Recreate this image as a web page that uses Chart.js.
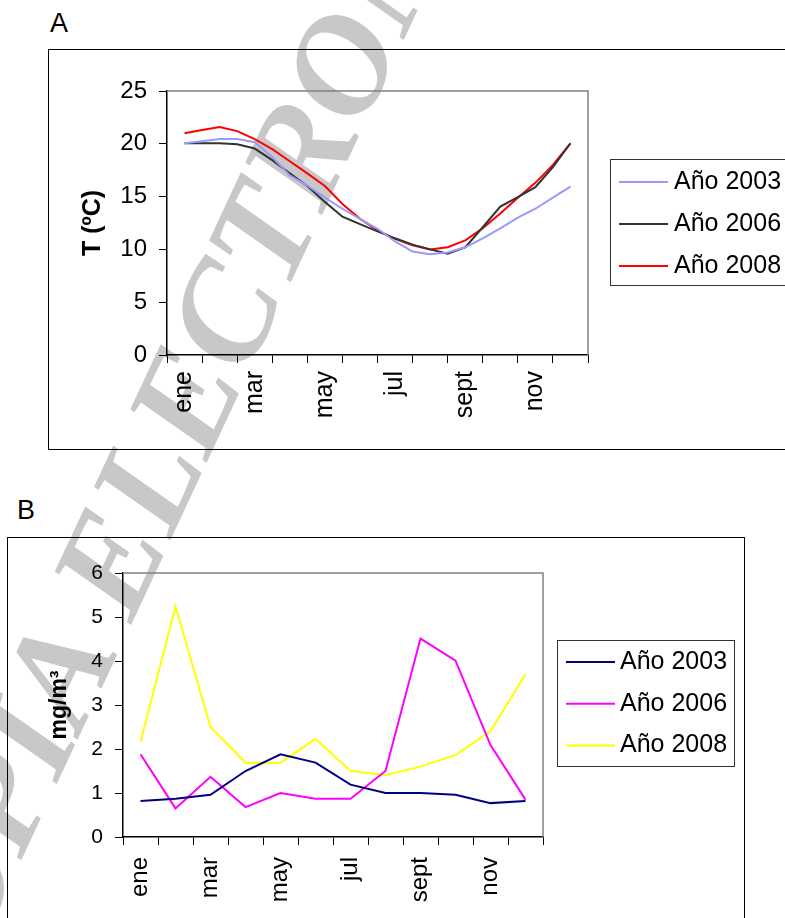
<!DOCTYPE html>
<html lang="es">
<head>
<meta charset="utf-8">
<script src="https://cdn.jsdelivr.net/npm/chart.js@4.4.1/dist/chart.umd.min.js"></script>
<style>
  html, body { margin: 0; padding: 0; background: #fff; overflow: hidden; }
  body { width: 785px; height: 918px; position: relative; font-family: "Liberation Sans", Arial, sans-serif; }
  .marca {
    position: absolute; left: -167px; top: 987px;
    font: italic bold 140px "Liberation Serif", serif; line-height: 1;
    color: #c8c8c8; white-space: nowrap;
    transform-origin: 0 0; transform: rotate(-65deg);
  }
  .letra { position: absolute; font-size: 27px; line-height: 27px; color: #000; }
  .marco { position: absolute; border: 1px solid #000; }
  canvas { position: absolute; left: 0; }
</style>
</head>
<body>
<div class="marca">COPIA ELECTRONICA</div>
<div class="letra" style="left:50px; top:10px;">A</div>
<div class="marco" style="left:48px; top:49px; width:800px; height:399px;"></div>
<div class="letra" style="left:17px; top:497px;">B</div>
<div class="marco" style="left:7px; top:537px; width:736px; height:500px;"></div>
<canvas id="graficoA" width="785" height="460" style="top:0px;"></canvas>
<canvas id="graficoB" width="785" height="458" style="top:460px;"></canvas>
<script>
// meses del eje x
const meses = ['ene', 'feb', 'mar', 'abr', 'may', 'jun', 'jul', 'ago', 'sept', 'oct', 'nov', 'dic'];

// A: temperatura quincenal (posicion en meses desde el 1 de enero)
const quincenas = [0.5, 1, 1.5, 2, 2.5, 3, 3.5, 4, 4.5, 5, 5.5, 6, 6.5, 7, 7.5, 8, 8.5, 9, 9.5, 10, 10.5, 11, 11.5];
const temp2003 = [20.05, 20.25, 20.45, 20.45, 20.15, 18.75, 17.0, 16.05, 14.9, 13.85, 12.9, 11.95, 10.75, 9.8, 9.55, 9.7, 10.2, 11.05, 12.0, 13.0, 13.85, 14.9, 15.95];
const temp2006 = [20.05, 20.05, 20.05, 19.95, 19.55, 18.45, 17.2, 16.0, 14.5, 13.1, 12.4, 11.7, 11.05, 10.45, 10.0, 9.6, 10.2, 12.1, 14.05, 14.95, 15.9, 17.8, 20.05];
const temp2008 = [21.0, 21.3, 21.6, 21.2, 20.45, 19.5, 18.35, 17.2, 16.0, 14.3, 12.9, 11.8, 11.0, 10.4, 10.0, 10.2, 10.85, 12.0, 13.4, 14.9, 16.3, 18.0, 20.05];

// B: mg/m3 mensual
const clor2003 = [0.82, 0.87, 0.96, 1.5, 1.88, 1.69, 1.19, 1.0, 1.0, 0.96, 0.77, 0.82];
const clor2006 = [1.88, 0.65, 1.37, 0.68, 1.0, 0.87, 0.87, 1.5, 4.51, 4.01, 2.09, 0.85];
const clor2008 = [2.16, 5.24, 2.5, 1.69, 1.69, 2.23, 1.5, 1.41, 1.6, 1.86, 2.41, 3.7];

const fuente = '"Liberation Sans", Arial, sans-serif';

// marco gris del area de trazado (arriba y derecha)
const marcoGrafico = {
  id: 'marcoGrafico',
  beforeDatasetsDraw(chart) {
    const ctx = chart.ctx;
    const a = chart.chartArea;
    ctx.save();
    ctx.strokeStyle = '#808080';
    ctx.lineWidth = 1.5;
    ctx.beginPath();
    ctx.moveTo(a.left, a.top);
    ctx.lineTo(a.right, a.top);
    ctx.lineTo(a.right, a.bottom);
    ctx.stroke();
    ctx.restore();
  }
};

// leyenda con recuadro
const leyendaCaja = {
  id: 'leyendaCaja',
  afterDraw(chart, args, o) {
    const ctx = chart.ctx;
    ctx.save();
    ctx.strokeStyle = '#333';
    ctx.lineWidth = 1;
    ctx.strokeRect(o.x, o.y, o.w, o.h);
    ctx.font = o.font;
    ctx.textBaseline = 'middle';
    ctx.fillStyle = '#000';
    chart.data.datasets.forEach((ds, i) => {
      let y = o.y0 + i * o.paso;
      ctx.strokeStyle = ds.borderColor;
      ctx.lineWidth = 2;
      ctx.beginPath();
      ctx.moveTo(o.xl, y);
      ctx.lineTo(o.xl + o.largo, y);
      ctx.stroke();
      ctx.fillText(ds.label, o.xt, y);
    });
    ctx.restore();
  }
};

function ejeMeses(tam, pad, alto) {
  return {
    type: 'category',
    labels: meses,
    offset: true,
    grid: { offset: true, drawOnChartArea: false, color: '#000', tickLength: 8 },
    border: { color: '#000', width: 1.5 },
    ticks: {
      autoSkip: false, minRotation: 90, maxRotation: 90, padding: pad, color: '#000',
      font: { family: fuente, size: tam },
      callback: (v, i) => i % 2 ? '' : meses[i]
    },
    afterFit: s => { s.height = alto; }
  };
}

function ejeY(max, tam, titulo, tamTit, ancho) {
  return {
    min: 0, max: max,
    ticks: { stepSize: max == 25 ? 5 : 1, padding: 12, color: '#000', font: { family: fuente, size: tam } },
    grid: { drawOnChartArea: false, color: '#000', tickLength: 8 },
    border: { color: '#000', width: 1.5 },
    title: { display: true, text: titulo, color: '#000', padding: 0, font: { family: fuente, size: tamTit, weight: 'bold' } },
    afterFit: s => { s.width = ancho; }
  };
}

function serie(label, color, valores, xs) {
  return {
    label: label,
    data: xs ? valores.map((v, i) => ({ x: xs[i], y: v })) : valores,
    borderColor: color,
    backgroundColor: color,
    borderWidth: 2,
    pointRadius: 0,
    tension: 0,
    xAxisID: xs ? 'xd' : 'x'
  };
}

// Grafico A
new Chart(document.getElementById('graficoA'), {
  type: 'line',
  data: {
    datasets: [
      serie('Año 2003', '#9999FF', temp2003, quincenas),
      serie('Año 2006', '#333333', temp2006, quincenas),
      serie('Año 2008', '#FF0000', temp2008, quincenas)
    ]
  },
  options: {
    responsive: false,
    animation: false,
    layout: { padding: { left: 78, top: 91, right: 197, bottom: 0 } },
    scales: {
      x: ejeMeses(25, 8, 105),
      xd: { type: 'linear', display: false, min: 0, max: 12 },
      y: ejeY(25, 24, 'T (ºC)', 25, 89)
    },
    plugins: {
      legend: { display: false },
      tooltip: { enabled: false },
      leyendaCaja: { x: 610.5, y: 159.5, w: 300, h: 126, xl: 619, largo: 49, xt: 674, y0: 182, paso: 42, font: '25px ' + fuente }
    }
  },
  plugins: [marcoGrafico, leyendaCaja]
});

// Grafico B
new Chart(document.getElementById('graficoB'), {
  type: 'line',
  data: {
    labels: meses,
    datasets: [
      serie('Año 2003', '#000080', clor2003),
      serie('Año 2006', '#FF00FF', clor2006),
      serie('Año 2008', '#FFFF00', clor2008)
    ]
  },
  options: {
    responsive: false,
    animation: false,
    layout: { padding: { left: 46, top: 113, right: 242, bottom: 0 } },
    scales: {
      x: ejeMeses(24, 12, 81),
      y: ejeY(6, 21, 'mg/m³', 23, 77)
    },
    plugins: {
      legend: { display: false },
      tooltip: { enabled: false },
      leyendaCaja: { x: 557.5, y: 180.5, w: 177, h: 126, xl: 566, largo: 49, xt: 620, y0: 202, paso: 41.7, font: '25px ' + fuente }
    }
  },
  plugins: [marcoGrafico, leyendaCaja]
});
</script>
</body>
</html>
